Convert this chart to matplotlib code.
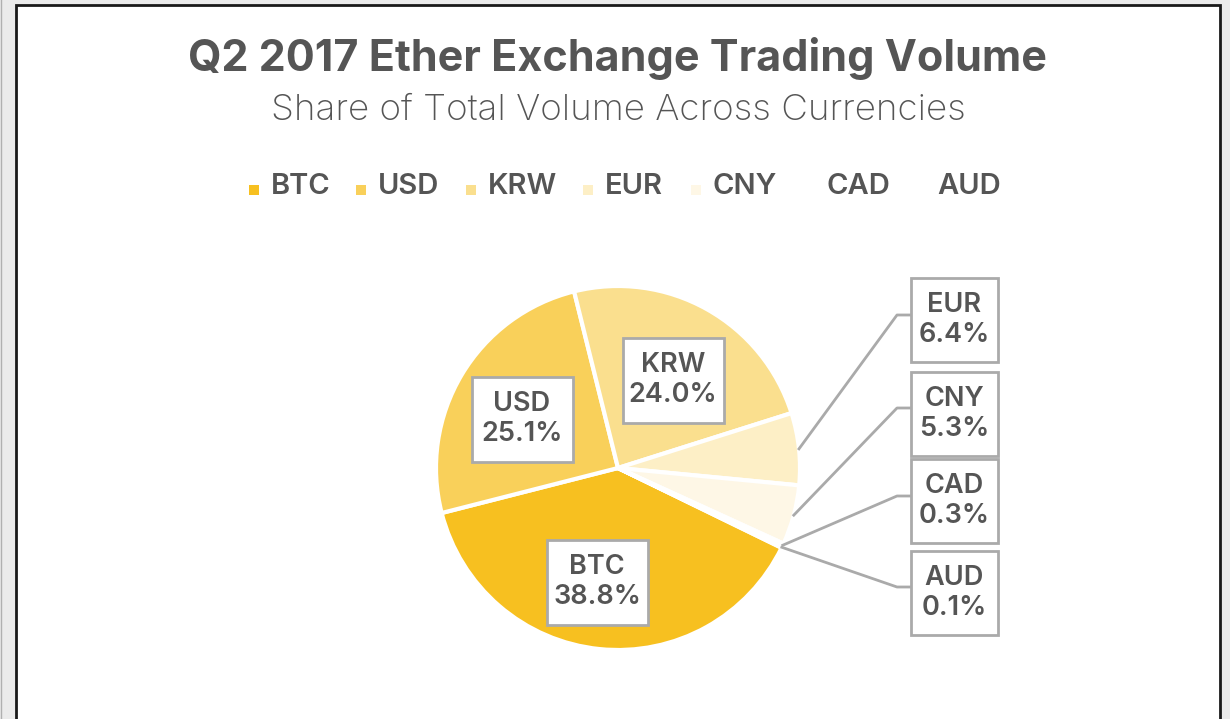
import matplotlib.pyplot as plt
from matplotlib.patches import Rectangle
import numpy as np

currencies = ["BTC", "USD", "KRW", "EUR", "CNY", "CAD", "AUD"]
shares = [38.8, 25.1, 24.0, 6.4, 5.3, 0.3, 0.1]
colors = ["#f7c020", "#f9d05a", "#fadf8e", "#fdefc6", "#fef7e6", "#ffffff", "#ffffff"]

txt = "#555555"
plt.rcParams['font.family'] = ['Inter', 'DejaVu Sans']

W, H = 1230, 719
fig = plt.figure(figsize=(W / 100, H / 100), dpi=100, facecolor="#ebebeb")
ax = fig.add_axes([0, 0, 1, 1])
ax.set_xlim(0, W)
ax.set_ylim(0, H)
ax.axis("off")

# card frame
ax.add_patch(Rectangle((16, -10), 1204, H - 4 + 10 - 1, facecolor="white",
                       edgecolor="#1a1a1a", linewidth=2, zorder=0))
ax.plot([0.5, 0.5], [0, H], color="#b0b0b0", lw=1, zorder=0)

def fy(y):
    return H - y

# titles
ax.text(617, fy(58), "Q2 2017 Ether Exchange Trading Volume", ha="center", va="center",
        fontsize=31, fontweight="bold", color=txt)
ax.text(618, fy(110), "Share of Total Volume Across Currencies", ha="center", va="center",
        fontsize=26.5, fontweight="light", color=txt)

# legend
leg_x = [271, 378, 488, 605, 713, 827, 937]
for x, lab, c in zip(leg_x, currencies, colors):
    ax.add_patch(Rectangle((x - 22, fy(195)), 10, 10, facecolor=c, edgecolor="none"))
    ax.text(x, fy(187), lab, ha="left", va="center", fontsize=21,
            fontweight="semibold", color=txt)

# pie
cx, cy, r = 618, fy(468), 182
start = -26
wedges, _ = ax.pie(shares, colors=colors, startangle=start, counterclock=False,
                   center=(cx, cy), radius=r,
                   wedgeprops=dict(edgecolor="white", linewidth=3))
ax.set_xlim(0, W)
ax.set_ylim(0, H)
ax.set_aspect("equal")


def label_box(x, y, w, h, s):
    ax.add_patch(Rectangle((x - w / 2, fy(y) - h / 2), w, h, facecolor="white",
                           edgecolor="#aaaaaa", linewidth=2, zorder=3))
    ax.text(x, fy(y), s, ha="center", va="center", fontsize=19.5,
            fontweight="semibold", color=txt, linespacing=1.2, zorder=4)


# inner labels
inner_pos = {"BTC": (597, 582), "USD": (522, 419), "KRW": (673, 380)}
for lab, s in zip(currencies, shares):
    if lab in inner_pos:
        x, y = inner_pos[lab]
        label_box(x, y, 101, 85, f"{lab}\n{s:.1f}%")

# outer labels with leader lines
outer_y = {"EUR": 320, "CNY": 413.5, "CAD": 501, "AUD": 593}
elbow_y = {"EUR": 315, "CNY": 408, "CAD": 496, "AUD": 587}
for w, lab, s in zip(wedges, currencies, shares):
    if lab not in outer_y:
        continue
    ang = np.deg2rad((w.theta1 + w.theta2) / 2)
    x0, y0 = cx + r * np.cos(ang), cy + r * np.sin(ang)
    ax.plot([x0, 897, 912], [y0, fy(elbow_y[lab]), fy(elbow_y[lab])],
            color="#aaaaaa", lw=2, zorder=1)
    label_box(954.5, outer_y[lab], 87, 84, f"{lab}\n{s:.1f}%")

fig.savefig("out.png", dpi=100, facecolor=fig.get_facecolor())
